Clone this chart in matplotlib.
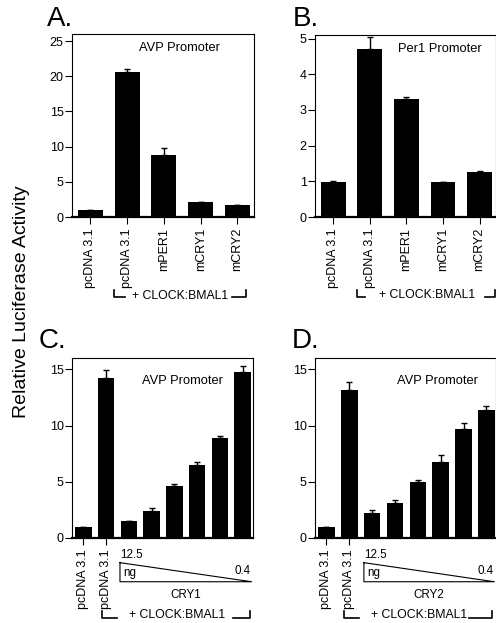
# Luciferase reporter assays, four panels (A-D)
import numpy as np
import matplotlib.pyplot as plt
from matplotlib.transforms import blended_transform_factory

plt.rcParams['font.family'] = ['Liberation Sans', 'DejaVu Sans']

W, H = 496, 623  # figure size in pixels

# Panel A / B data
labels_ab = ["pcDNA 3.1", "pcDNA 3.1", "mPER1", "mCRY1", "mCRY2"]
avp_a = [1.0, 20.55, 8.75, 2.1, 1.65]
avp_a_err = [0.0, 0.5, 1.0, 0.0, 0.0]
per1_b = [0.98, 4.72, 3.3, 0.97, 1.25]
per1_b_err = [0.03, 0.33, 0.05, 0.0, 0.05]

# Panel C / D data (two controls, then CRY dose series 12.5 -> 0.4 ng)
labels_cd = ["pcDNA 3.1", "pcDNA 3.1"]
cry1_c = [1.0, 14.25, 1.5, 2.4, 4.6, 6.45, 8.85, 14.75]
cry1_c_err = [0.0, 0.65, 0.05, 0.3, 0.2, 0.35, 0.25, 0.5]
cry2_d = [1.0, 13.15, 2.25, 3.1, 5.0, 6.8, 9.65, 11.35]
cry2_d_err = [0.0, 0.7, 0.25, 0.25, 0.2, 0.55, 0.55, 0.35]


def px_axes(fig, left, top, right, bottom):
    return fig.add_axes([left / W, 1 - bottom / H, (right - left) / W, (bottom - top) / H])


def style(ax):
    for side in ['left', 'top', 'right']:
        ax.spines[side].set_linewidth(0.8)
    ax.spines['bottom'].set_linewidth(1.6)
    ax.tick_params(axis='y', direction='out', length=5, width=0.8, pad=1, labelsize=9)
    ax.tick_params(axis='x', direction='out', length=5, width=0.8, pad=3, labelsize=9)


def draw_bars(ax, vals, errs, width):
    x = np.arange(len(vals))
    ax.bar(x, vals, width, color='black', yerr=[np.zeros(len(errs)), errs],
           error_kw=dict(ecolor='black', elinewidth=1, capsize=2.2, capthick=1))
    return x


def bracket(ax, x0, x1, h0, h1, xt, yb, ytop, yt):
    tr = blended_transform_factory(ax.transData, ax.transAxes)
    ax.plot([x0, x0, h0], [ytop, yb, yb], transform=tr, clip_on=False, color='black', lw=1.2)
    ax.plot([h1, x1, x1], [yb, yb, ytop], transform=tr, clip_on=False, color='black', lw=1.2)
    ax.text(xt, yt, "+ CLOCK:BMAL1", transform=tr, ha='center', va='center', fontsize=8.8)


def wedge(ax, x0, x1, ytop, ybot, name):
    tr = blended_transform_factory(ax.transData, ax.transAxes)
    ax.plot([x0, x0, x1, x0], [ytop, ybot, ybot, ytop], transform=tr, clip_on=False,
            color='black', lw=0.8)
    ax.text(x0, ytop + 0.04, "12.5", transform=tr, ha='left', va='center', fontsize=8.4)
    ax.text(x0 + 0.14, ybot + 0.05, "ng", transform=tr, ha='left', va='center', fontsize=8.4)
    ax.text(x1 - 0.05, ybot + 0.057, "0.4", transform=tr, ha='right', va='center', fontsize=8.4)
    ax.text((x0 + x1) / 2, ybot - 0.074, name, transform=tr, ha='center', va='center', fontsize=8.4)


def main():
    fig = plt.figure(figsize=(W / 100, H / 100), dpi=100)

    # A
    ax = px_axes(fig, 72, 34, 254, 217)
    x = draw_bars(ax, avp_a, avp_a_err, 0.68)
    ax.set_xlim(-0.5, 4.45)
    ax.set_ylim(0, 26)
    ax.set_yticks([0, 5, 10, 15, 20, 25])
    ax.set_xticks(x)
    ax.set_xticklabels(labels_ab, rotation=90)
    ax.text(0.59, 0.925, "AVP Promoter", transform=ax.transAxes, ha='center', va='center', fontsize=9.3)
    style(ax)
    bracket(ax, 0.63, 4.22, 0.95, 3.86, 2.45, -0.437, -0.399, -0.43)

    # B
    ax = px_axes(fig, 315, 35, 496, 217)
    x = draw_bars(ax, per1_b, per1_b_err, 0.68)
    ax.set_xlim(-0.5, 4.45)
    ax.set_ylim(0, 5.1)
    ax.set_yticks([0, 1, 2, 3, 4, 5])
    ax.set_xticks(x)
    ax.set_xticklabels(labels_ab, rotation=90)
    ax.text(0.69, 0.925, "Per1 Promoter", transform=ax.transAxes, ha='center', va='center', fontsize=9.3)
    style(ax)
    bracket(ax, 0.66, 4.43, 0.87, 4.15, 2.56, -0.437, -0.399, -0.43)

    # C
    ax = px_axes(fig, 72, 358, 253, 538)
    x = draw_bars(ax, cry1_c, cry1_c_err, 0.72)
    ax.set_xlim(-0.5, 7.46)
    ax.set_ylim(0, 16)
    ax.set_yticks([0, 5, 10, 15])
    ax.set_xticks(x[:2])
    ax.set_xticklabels(labels_cd, rotation=90)
    ax.text(0.61, 0.875, "AVP Promoter", transform=ax.transAxes, ha='center', va='center', fontsize=9.3)
    style(ax)
    wedge(ax, 1.61, 7.4, -0.137, -0.243, "CRY1")
    bracket(ax, 0.81, 7.33, 1.47, 6.58, 4.1, -0.443, -0.406, -0.43)

    # D
    ax = px_axes(fig, 315, 358, 496, 538)
    x = draw_bars(ax, cry2_d, cry2_d_err, 0.72)
    ax.set_xlim(-0.5, 7.42)
    ax.set_ylim(0, 16)
    ax.set_yticks([0, 5, 10, 15])
    ax.set_xticks(x[:2])
    ax.set_xticklabels(labels_cd, rotation=90)
    ax.text(0.675, 0.875, "AVP Promoter", transform=ax.transAxes, ha='center', va='center', fontsize=9.3)
    style(ax)
    wedge(ax, 1.64, 7.35, -0.137, -0.243, "CRY2")
    bracket(ax, 0.75, 7.25, 1.44, 6.25, 4.07, -0.443, -0.406, -0.43)

    # panel letters and shared y label
    for lab, px, py in [("A.", 47, 26), ("B.", 293, 26), ("C.", 39, 348), ("D.", 292, 348)]:
        fig.text(px / W, 1 - py / H, lab, fontsize=20, ha='left', va='baseline')
    fig.text(22 / W, 1 - 302 / H, "Relative Luciferase Activity", rotation=90,
             ha='center', va='center', fontsize=14)

    fig.savefig("out.png", dpi=100)


if __name__ == '__main__':
    main()
